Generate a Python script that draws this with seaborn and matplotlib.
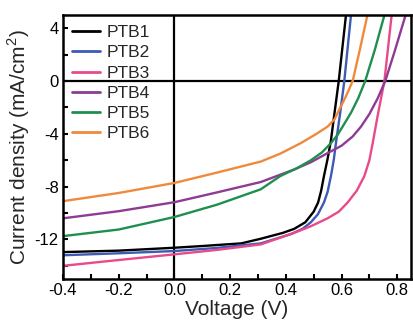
import numpy as np
import pandas as pd
import matplotlib
matplotlib.use('Agg')
import matplotlib.pyplot as plt
import seaborn as sns

# J-V curves (V in volts, J in mA/cm2)
v_ptb1 = [-0.4, -0.2, 0.0, 0.1, 0.24, 0.31, 0.39, 0.43, 0.47, 0.50, 0.516, 0.527,
          0.537, 0.55, 0.562, 0.575, 0.59, 0.603, 0.616]
j_ptb1 = [-12.96, -12.85, -12.63, -12.5, -12.3, -11.95, -11.5, -11.2, -10.7, -9.9, -9.2, -8.3,
          -7.2, -5.9, -4.5, -2.4, 0.0, 2.5, 5.0]

v_ptb2 = [-0.4, -0.2, 0.0, 0.15, 0.31, 0.418, 0.46, 0.49, 0.515, 0.537, 0.55, 0.562,
          0.572, 0.58, 0.596, 0.61, 0.634]
j_ptb2 = [-13.2, -13.05, -12.88, -12.65, -12.3, -11.6, -11.2, -10.7, -10.1, -9.2, -8.4, -7.2,
          -6.0, -4.7, -2.3, 0.0, 5.0]

v_ptb3 = [-0.4, -0.2, 0.0, 0.15, 0.31, 0.43, 0.49, 0.55, 0.59, 0.622, 0.655, 0.682,
          0.70, 0.712, 0.73, 0.754, 0.78]
j_ptb3 = [-14.0, -13.56, -13.13, -12.8, -12.38, -11.5, -11.0, -10.4, -9.9, -9.2, -8.3, -7.2,
          -6.0, -4.7, -2.6, 0.0, 5.0]

v_ptb4 = [-0.4, -0.2, 0.0, 0.15, 0.31, 0.43, 0.49, 0.55, 0.60, 0.64, 0.67, 0.70,
          0.73, 0.757, 0.79, 0.83]
j_ptb4 = [-10.4, -9.86, -9.18, -8.45, -7.65, -6.7, -6.15, -5.46, -4.9, -4.2, -3.45, -2.5,
          -1.3, 0.0, 2.2, 5.0]

v_ptb5 = [-0.4, -0.2, 0.0, 0.154, 0.31, 0.38, 0.44, 0.49, 0.53, 0.562, 0.585, 0.604,
          0.634, 0.66, 0.685, 0.72, 0.754]
j_ptb5 = [-11.75, -11.25, -10.3, -9.36, -8.2, -7.2, -6.6, -6.0, -5.4, -4.7, -4.1, -3.45,
          -2.4, -1.3, 0.0, 2.4, 5.0]

v_ptb6 = [-0.4, -0.2, 0.0, 0.15, 0.31, 0.38, 0.454, 0.51, 0.55, 0.575, 0.591, 0.615,
          0.64, 0.665, 0.693]
j_ptb6 = [-9.1, -8.48, -7.72, -6.95, -6.1, -5.5, -4.7, -4.0, -3.45, -2.9, -2.2, -1.2,
          0.0, 2.3, 5.0]

names = ['PTB1', 'PTB2', 'PTB3', 'PTB4', 'PTB5', 'PTB6']
colors = ['#000000', '#3d5bb5', '#e84a8a', '#8e3b95', '#1f8f4f', '#ef8a3d']

curves = [(v_ptb1, j_ptb1), (v_ptb2, j_ptb2), (v_ptb3, j_ptb3),
          (v_ptb4, j_ptb4), (v_ptb5, j_ptb5), (v_ptb6, j_ptb6)]
df = pd.concat([pd.DataFrame({'V': v, 'J': j, 'name': n})
                for n, (v, j) in zip(names, curves)], ignore_index=True)

sns.set_theme(style='ticks')
plt.rcParams['font.family'] = ['Liberation Sans', 'DejaVu Sans']
plt.rcParams['mathtext.fontset'] = 'custom'
plt.rcParams['mathtext.rm'] = 'Liberation Sans'

fig = plt.figure(figsize=(4.13, 3.25), dpi=100)
ax = fig.add_axes([0.1525, 0.1415, 0.843, 0.812])

sns.lineplot(data=df, x='V', y='J', hue='name', palette=colors,
             hue_order=names, linewidth=1.7, ax=ax, legend=False,
             estimator=None, sort=False)

ax.axhline(0, color='black', lw=1.6, zorder=0)
ax.axvline(0, color='black', lw=1.6, zorder=0)

ax.set_xlim(-0.4, 0.85)
ax.set_ylim(-15, 5)
ax.set_xticks([-0.4, -0.2, 0.0, 0.2, 0.4, 0.6, 0.8])
ax.set_xticklabels(['-0.4', '-0.2', '0.0', '0.2', '0.4', '0.6', '0.8'])
ax.set_xticks(np.arange(-0.3, 0.85, 0.2), minor=True)
ax.set_yticks([-12, -8, -4, 0, 4])
ax.set_yticklabels(['-12', '-8', '-4', '0', '4'])
ax.set_yticks([-14, -10, -6, -2, 2], minor=True)
ax.tick_params(which='both', direction='in', length=3.5, width=1.5,
               labelsize=12, pad=3, colors='black')

for s in ax.spines.values():
    s.set_linewidth(1.8)
    s.set_color('black')

ax.set_xlabel('Voltage (V)', fontsize=15, labelpad=1)
ax.set_ylabel('Current density (mA/cm$^2$)', fontsize=15, labelpad=2)

handles = [plt.Line2D([], [], color=c, lw=2) for c in colors]
ax.legend(handles, names, loc='upper left', bbox_to_anchor=(0.026, 0.962),
          frameon=False, fontsize=12.5, handlelength=1.6,
          handletextpad=0.4, labelspacing=0.29, borderpad=0,
          borderaxespad=0)

fig.savefig('out.png', dpi=100)
